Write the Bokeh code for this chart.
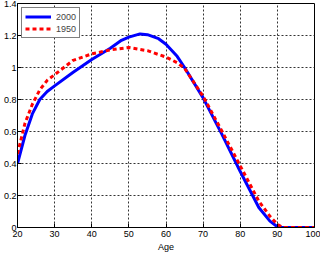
from bokeh.plotting import figure
from bokeh.models import FixedTicker, NumeralTickFormatter, Range1d
from bokeh.embed import file_html
from bokeh.resources import INLINE

# Age profiles for the two cohorts
ages_2000 = [20, 22, 24, 26, 28, 30, 35, 40, 45, 48, 50, 53, 55, 58, 60, 63, 65, 70, 75, 80, 85, 88, 90, 91, 95, 100]
vals_2000 = [0.40, 0.575, 0.71, 0.80, 0.85, 0.885, 0.97, 1.05, 1.12, 1.17, 1.19, 1.21, 1.205, 1.18, 1.145, 1.07, 1.0,
             0.81, 0.585, 0.35, 0.125, 0.04, 0.005, 0.0, 0.0, 0.0]

ages_1950 = [20, 22, 24, 26, 28, 30, 35, 40, 45, 50, 55, 60, 63, 65, 70, 75, 80, 85, 88, 90, 91.5, 95, 100]
vals_1950 = [0.46, 0.65, 0.77, 0.86, 0.92, 0.955, 1.045, 1.085, 1.11, 1.125, 1.105, 1.065, 1.03, 0.995,
             0.82, 0.605, 0.385, 0.165, 0.07, 0.02, 0.0, 0.0, 0.0]

x_ticks = [20, 30, 40, 50, 60, 70, 80, 90, 100]
y_ticks = [0, 0.2, 0.4, 0.6, 0.8, 1.0, 1.2, 1.4]

FONT = "Liberation Sans"

p = figure(width=320, height=254, output_backend="svg", toolbar_location=None,
           x_range=Range1d(20, 100), y_range=Range1d(0, 1.4),
           min_border_left=0, min_border_right=6, min_border_top=3, min_border_bottom=0)

p.line(ages_2000, vals_2000, line_color="#0000ff", line_width=3, legend_label="2000")
p.line(ages_1950, vals_1950, line_color="#ff0000", line_width=3, line_dash="4 3", legend_label="1950")

p.outline_line_color = "black"
p.outline_line_width = 1
p.background_fill_color = "white"
p.border_fill_color = "white"

for ax in (p.xaxis[0], p.yaxis[0]):
    ax.axis_line_color = "black"
    ax.major_tick_in = 4
    ax.major_tick_out = 0
    ax.minor_tick_line_color = None
    ax.major_label_text_font = FONT
    ax.major_label_text_font_size = "9px"
    ax.major_label_text_color = "black"
    ax.major_label_standoff = 3

p.xaxis.ticker = FixedTicker(ticks=x_ticks)
p.yaxis.ticker = FixedTicker(ticks=y_ticks)
p.yaxis.formatter = NumeralTickFormatter(format="0.[0]")
p.yaxis.major_label_standoff = 1
p.xaxis.axis_label = "Age"
p.xaxis.axis_label_text_font = FONT
p.xaxis.axis_label_text_font_size = "9px"
p.xaxis.axis_label_text_font_style = "normal"
p.xaxis.axis_label_text_color = "black"
p.xaxis.axis_label_standoff = 2

p.grid.grid_line_color = "#333333"
p.grid.grid_line_dash = "2 2"
p.grid.grid_line_width = 1

leg = p.legend[0]
leg.location = "top_left"
leg.margin = 4
leg.padding = 3
leg.spacing = 1
leg.glyph_width = 26
leg.glyph_height = 11
leg.label_height = 11
leg.label_standoff = 5
leg.label_text_font = FONT
leg.label_text_font_size = "9px"
leg.border_line_color = "black"
leg.border_line_width = 1
leg.background_fill_alpha = 1.0

open("out.html", "w").write(file_html(p, INLINE))
